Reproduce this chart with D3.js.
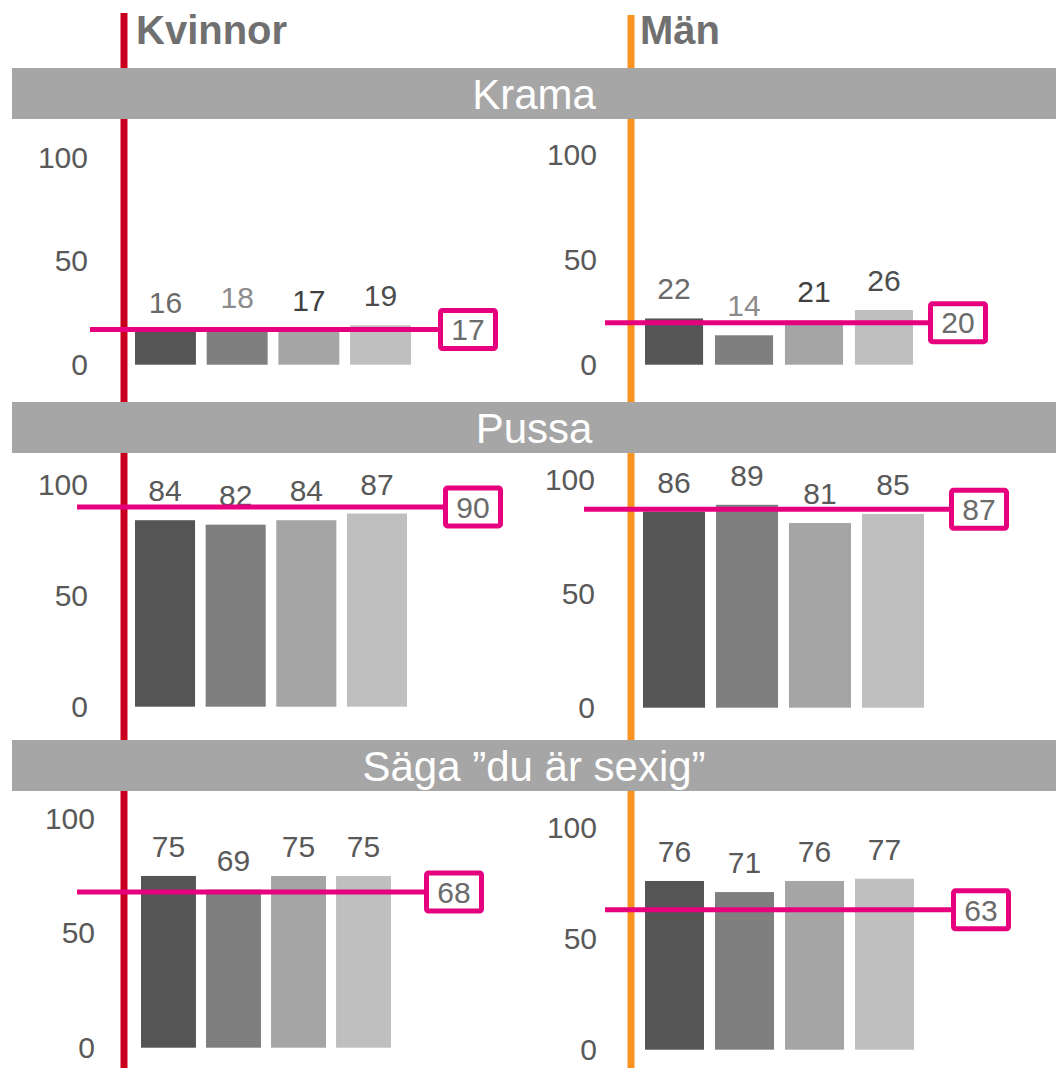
<!DOCTYPE html>
<html>
<head>
<meta charset="utf-8">
<script src="https://cdn.jsdelivr.net/npm/d3@7"></script>
<style>
  html, body { margin: 0; padding: 0; background: #fff; }
  svg { display: block; font-family: "Liberation Sans", Arial, sans-serif; }
</style>
</head>
<body>
<svg id="chart" width="1056" height="1068"></svg>
<script>
// ---- data ----
const categories = ["g1", "g2", "g3", "g4"];
const genders = ["Kvinnor", "Män"];
const activities = ["Krama", "Pussa", "Säga ”du är sexig”"];
const kvinnorValues = [[16, 18, 17, 19], [84, 82, 84, 87], [75, 69, 75, 75]];
const manValues = [[22, 14, 21, 26], [86, 89, 81, 85], [76, 71, 76, 77]];
const kvinnorRef = [17, 90, 68];
const manRef = [20, 87, 63];
const yTicks = [0, 50, 100];

// ---- layout & style (kept apart from data) ----
const layout = {
  "Kvinnor": [
    {x0: 135, x1: 411, pad: 0.15, y0: 364.7, y100: 157.7, axisX: 88, lineX1: 90, boxX: 438},
    {x0: 135, x1: 407, pad: 0.15, y0: 706.7, y100: 484.7, axisX: 88, lineX1: 77, boxX: 443},
    {x0: 141, x1: 391, pad: 0.155, y0: 1047.7, y100: 818.7, axisX: 95, lineX1: 77, boxX: 424}
  ],
  "Män": [
    {x0: 645, x1: 913, pad: 0.17, y0: 364.7, y100: 154.5, axisX: 597, lineX1: 605, boxX: 928},
    {x0: 643, x1: 924, pad: 0.15, y0: 707.7, y100: 479.7, axisX: 595, lineX1: 584, boxX: 949},
    {x0: 645, x1: 914, pad: 0.157, y0: 1049.7, y100: 827.7, axisX: 597, lineX1: 605, boxX: 951}
  ]
};
const genderStyle = {
  "Kvinnor": {lineX: 124, lineTop: 13, color: "#c8001e", titleX: 136, titleY: 44},
  "Män": {lineX: 631, lineTop: 15, color: "#f7931e", titleX: 640, titleY: 44}
};
const bands = [{y: 68}, {y: 402}, {y: 740}];
const bandH = 51;
const barColors = ["#555555", "#7f7f7f", "#a5a5a5", "#bfbfbf"];
const kramaLabelColors = ["#6b6b6b", "#8c8c8c", "#404040", "#4d4d4d"];
const magenta = "#e6007e";

const svg = d3.select("#chart");
const color = d3.scaleOrdinal().domain(categories).range(barColors);

// vertical gender lines (behind bands)
genders.forEach(g => {
  const s = genderStyle[g];
  svg.append("rect")
    .attr("x", s.lineX - 3.5).attr("y", s.lineTop)
    .attr("width", 7).attr("height", 1068 - s.lineTop)
    .attr("fill", s.color);
  svg.append("text")
    .attr("x", s.titleX).attr("y", s.titleY)
    .attr("font-size", 40).attr("font-weight", "bold")
    .attr("fill", "#707070")
    .text(g);
});

// activity bands
activities.forEach((a, i) => {
  svg.append("rect")
    .attr("x", 12).attr("y", bands[i].y)
    .attr("width", 1056 - 12).attr("height", bandH)
    .attr("fill", "#a6a6a6");
  svg.append("text")
    .attr("x", 534).attr("y", bands[i].y + 41)
    .attr("text-anchor", "middle")
    .attr("font-size", 42).attr("fill", "#ffffff")
    .text(a);
});

// panels
const valuesByGender = {"Kvinnor": kvinnorValues, "Män": manValues};
const refsByGender = {"Kvinnor": kvinnorRef, "Män": manRef};

genders.forEach(g => {
  activities.forEach((a, i) => {
    const L = layout[g][i];
    const vals = valuesByGender[g][i];
    const ref = refsByGender[g][i];
    const data = categories.map((c, k) => ({c, v: vals[k], k}));

    const x = d3.scaleBand().domain(categories).range([L.x0, L.x1])
      .paddingInner(L.pad).paddingOuter(0);
    const y = d3.scaleLinear().domain([0, 100]).range([L.y0, L.y100]);

    const p = svg.append("g");

    // y axis labels
    const ax = p.append("g")
      .attr("transform", `translate(${L.axisX},0)`)
      .call(d3.axisLeft(y).tickValues(yTicks).tickSize(0).tickPadding(0));
    ax.select(".domain").remove();
    ax.selectAll("text")
      .attr("font-size", 30)
      .attr("font-family", "Liberation Sans, Arial, sans-serif")
      .attr("fill", "#595959");

    // bars
    p.selectAll("rect.bar").data(data).join("rect")
      .attr("class", "bar")
      .attr("x", d => x(d.c))
      .attr("y", d => y(d.v))
      .attr("width", x.bandwidth())
      .attr("height", d => y(0) - y(d.v))
      .attr("fill", d => color(d.c));

    // value labels
    p.selectAll("text.val").data(data).join("text")
      .attr("class", "val")
      .attr("x", d => x(d.c) + x.bandwidth() / 2)
      .attr("y", d => y(d.v) - 19)
      .attr("text-anchor", "middle")
      .attr("font-size", 30)
      .attr("fill", d => i === 0 ? kramaLabelColors[d.k] : "#595959")
      .text(d => d.v);

    // reference line
    const ry = y(ref);
    p.append("line")
      .attr("x1", L.lineX1).attr("x2", L.boxX + 2)
      .attr("y1", ry).attr("y2", ry)
      .attr("stroke", magenta).attr("stroke-width", 5);

    // reference box
    const bw = 60, bh = 43;
    p.append("rect")
      .attr("x", L.boxX + 2.5).attr("y", ry - bh / 2 + 2.5)
      .attr("width", bw - 5).attr("height", bh - 5)
      .attr("rx", 2)
      .attr("fill", "#ffffff")
      .attr("stroke", magenta).attr("stroke-width", 5);
    p.append("text")
      .attr("x", L.boxX + bw / 2).attr("y", ry)
      .attr("dy", "0.36em")
      .attr("text-anchor", "middle")
      .attr("font-size", 30)
      .attr("fill", "#6b6b6b")
      .text(ref);
  });
});
</script>
</body>
</html>
